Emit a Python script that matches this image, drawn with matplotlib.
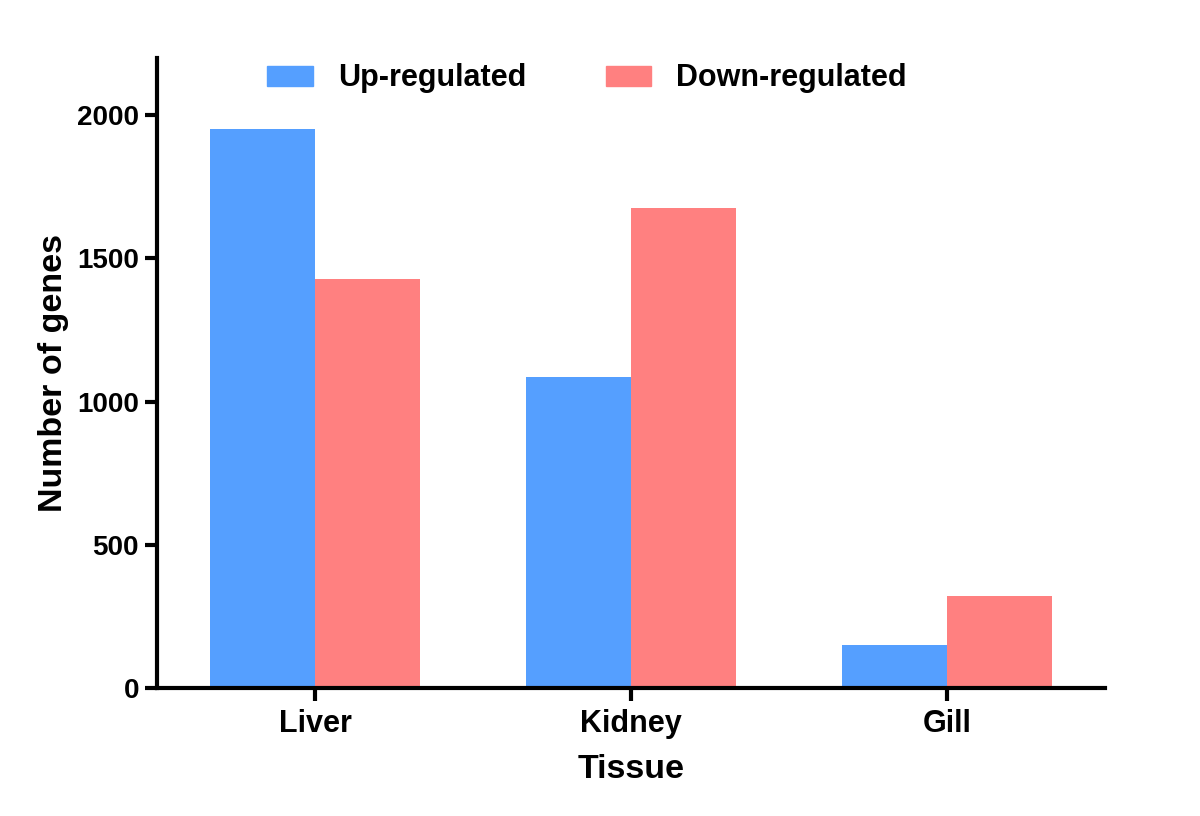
import numpy as np
import matplotlib
matplotlib.use('Agg')
import matplotlib.pyplot as plt
from matplotlib.patches import Patch

plt.rcParams['font.family'] = ['Liberation Sans', 'DejaVu Sans']
plt.rcParams['font.weight'] = 'bold'

# Data
tissues = ['Liver', 'Kidney', 'Gill']
up_regulated = [1951, 1087, 150]
down_regulated = [1427, 1675, 320]
series_names = ['Up-regulated', 'Down-regulated']
colors = ['#559fff', '#ff8080']
y_ticks = [0, 500, 1000, 1500, 2000]

fig = plt.figure(figsize=(12, 8.16), dpi=100)
ax = fig.add_axes([0.1308, 0.1569, 0.79, 0.772])

x = np.arange(len(tissues))
width = 1 / 3
ax.bar(x - width / 2, up_regulated, width, color=colors[0], linewidth=0)
ax.bar(x + width / 2, down_regulated, width, color=colors[1], linewidth=0)

ax.set_xlim(-0.5, 2.5)
ax.set_ylim(0, 2200)
ax.set_xticks(x)
ax.set_xticklabels(tissues)
ax.set_yticks(y_ticks)

for side in ['top', 'right']:
    ax.spines[side].set_visible(False)
for side in ['left', 'bottom']:
    ax.spines[side].set_linewidth(3)
ax.tick_params(axis='both', width=3, length=9, labelsize=20, pad=4)
ax.tick_params(axis='x', labelsize=22, pad=6)

ax.set_xlabel('Tissue', fontsize=24.5, fontweight='bold', labelpad=11)
ax.set_ylabel('Number of genes', fontsize=24.5, fontweight='bold', labelpad=6)

handles = [Patch(color=c, label=n) for c, n in zip(colors, series_names)]
ax.legend(handles=handles, loc='upper center', bbox_to_anchor=(0.4536, 1.035), ncol=2,
          frameon=False, fontsize=22, handlelength=1.5, handleheight=0.65,
          columnspacing=2.6, handletextpad=0.8)

fig.savefig('out.png', dpi=100)
